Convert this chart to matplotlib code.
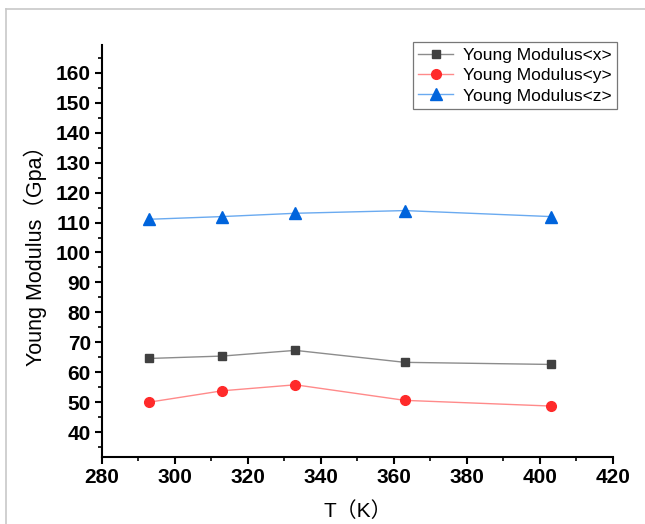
import matplotlib
matplotlib.use("Agg")
import matplotlib.pyplot as plt
from matplotlib.lines import Line2D
from matplotlib.ticker import MultipleLocator

plt.rcParams['font.family'] = ['Liberation Sans', 'Noto Sans CJK SC', 'DejaVu Sans']

temps = [293, 313, 333, 363, 403]
young_x = [64.6, 65.4, 67.3, 63.3, 62.6]
young_y = [50.0, 53.8, 55.8, 50.6, 48.7]
young_z = [111.1, 112.0, 113.1, 114.0, 112.0]
series_labels = ["Young Modulus<x>", "Young Modulus<y>", "Young Modulus<z>"]

fig = plt.figure(figsize=(6.45, 5.24), dpi=100)
ax = fig.add_axes([0.158, 0.128, 0.792, 0.786])

ax.plot(temps, young_x, color="#8c8c8c", lw=1.0, marker="s", ms=6,
        mfc="#404040", mec="#404040", label=series_labels[0])
ax.plot(temps, young_y, color="#ff8a8a", lw=1.0, marker="o", ms=7,
        mfc="#ff2a2a", mec="#ff2a2a", label=series_labels[1])
ax.plot(temps, young_z, color="#6aaaf0", lw=1.0, marker="^", ms=8,
        mfc="#0064dc", mec="#0064dc", label=series_labels[2])

ax.set_xlim(280, 420)
ax.set_ylim(31.7, 169.3)
ax.xaxis.set_major_locator(MultipleLocator(20))
ax.xaxis.set_minor_locator(MultipleLocator(10))
ax.set_yticks(range(40, 161, 10))
ax.yaxis.set_minor_locator(MultipleLocator(5))

for s in ("top", "right"):
    ax.spines[s].set_visible(False)
for s in ("left", "bottom"):
    ax.spines[s].set_linewidth(1.5)

ax.tick_params(which="major", direction="out", length=5, width=1.5,
               labelsize=15, pad=3)
ax.tick_params(which="minor", direction="out", length=3, width=1.2)
for lbl in ax.get_xticklabels() + ax.get_yticklabels():
    lbl.set_fontweight("bold")

ax.set_xlabel("T（K）", fontsize=15, labelpad=10)
ax.set_ylabel("Young Modulus（Gpa）", fontsize=15.5, labelpad=6)

leg = ax.legend(loc="upper right", bbox_to_anchor=(0.957, 0.919),
                bbox_transform=fig.transFigure, fontsize=12.5,
                frameon=True, fancybox=False, borderpad=0.3,
                labelspacing=0.3, handlelength=2.0, handletextpad=0.6,
                borderaxespad=0)
leg.get_frame().set_edgecolor("#555555")
leg.get_frame().set_linewidth(0.9)

# thin page border on the left and top
fig.add_artist(Line2D([0.009, 0.009], [0.0, 0.983], transform=fig.transFigure,
                      color="#c8c8c8", lw=1.2))
fig.add_artist(Line2D([0.009, 1.0], [0.983, 0.983], transform=fig.transFigure,
                      color="#c8c8c8", lw=1.2))

fig.savefig("out.png", dpi=100)
